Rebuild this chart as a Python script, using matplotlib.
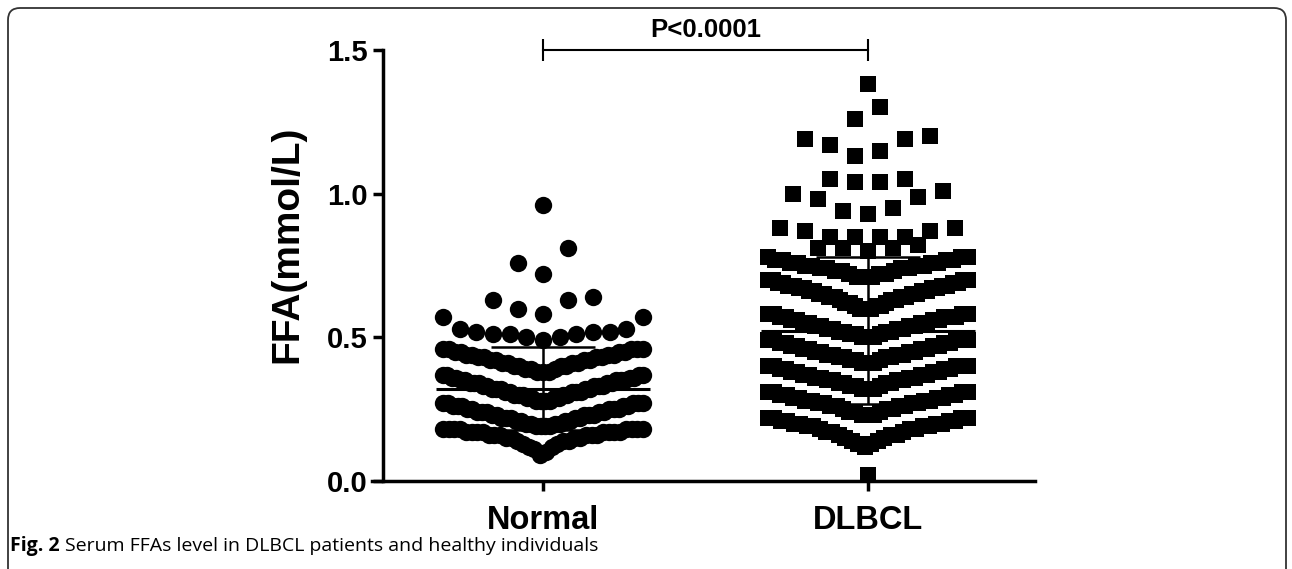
import numpy as np
import matplotlib
matplotlib.use("Agg")
import matplotlib.pyplot as plt
from matplotlib.patches import FancyBboxPatch
from matplotlib.transforms import IdentityTransform

# Data (FFA in mmol/L, value -> number of subjects)
groups = ["Normal", "DLBCL"]

normal_vals = [0.09, 0.10, 0.11, 0.12, 0.13, 0.14, 0.15, 0.16, 0.17, 0.18,
               0.19, 0.20, 0.21, 0.22, 0.23, 0.24, 0.25, 0.26, 0.27,
               0.28, 0.29, 0.30, 0.31, 0.32, 0.33, 0.34, 0.35, 0.36, 0.37,
               0.38, 0.39, 0.40, 0.41, 0.42, 0.43, 0.44, 0.45, 0.46,
               0.49, 0.50, 0.51, 0.52, 0.53, 0.57,
               0.58, 0.60, 0.63, 0.64,
               0.72, 0.76, 0.81,
               0.96]
normal_counts = [1, 1, 1, 2, 2, 3, 4, 6, 8, 8,
                 4, 4, 4, 5, 5, 5, 5, 5, 5,
                 4, 4, 5, 5, 5, 5, 5, 5, 4, 4,
                 3, 3, 4, 4, 4, 4, 4, 4, 5,
                 1, 2, 3, 3, 2, 2,
                 1, 1, 2, 1,
                 1, 1, 1,
                 1]

dlbcl_vals = [0.02,
              0.12, 0.13, 0.14, 0.15, 0.16, 0.17, 0.18, 0.19, 0.20, 0.21, 0.22,
              0.23, 0.24, 0.25, 0.26, 0.27, 0.28, 0.29, 0.30, 0.31,
              0.32, 0.33, 0.34, 0.35, 0.36, 0.37, 0.38, 0.39, 0.40,
              0.41, 0.42, 0.43, 0.44, 0.45, 0.46, 0.47, 0.48, 0.49,
              0.50, 0.51, 0.52, 0.53, 0.54, 0.55, 0.56, 0.57, 0.58,
              0.60, 0.61, 0.62, 0.63, 0.64, 0.65, 0.66, 0.67, 0.68, 0.69, 0.70,
              0.71, 0.72, 0.73, 0.74, 0.75, 0.76, 0.77, 0.78,
              0.80, 0.81, 0.82,
              0.85, 0.87, 0.88,
              0.93, 0.94, 0.95, 0.98, 0.99, 1.00, 1.01,
              1.04, 1.05,
              1.13, 1.15, 1.17, 1.19, 1.20,
              1.26, 1.30,
              1.38]
dlbcl_counts = [1,
                1, 2, 2, 2, 3, 3, 3, 4, 4, 4, 4,
                3, 3, 3, 4, 4, 4, 4, 4, 4,
                3, 3, 4, 4, 4, 4, 4, 4, 5,
                3, 3, 4, 4, 4, 4, 4, 4, 5,
                3, 3, 4, 4, 4, 4, 4, 5, 4,
                3, 3, 3, 3, 4, 4, 4, 4, 4, 4, 4,
                3, 3, 3, 4, 4, 4, 4, 3,
                1, 3, 1,
                4, 2, 2,
                1, 1, 1, 1, 1, 1, 1,
                2, 2,
                1, 1, 1, 2, 1,
                1, 1,
                1]

# bins used for the scatter layout (Prism-like rows)
normal_edges = [0.0, 0.185, 0.275, 0.375, 0.475, 0.575, 0.68, 0.9, 1.0]
dlbcl_edges = [0.0, 0.06, 0.225, 0.315, 0.405, 0.495, 0.585, 0.705, 0.785,
               0.83, 0.91, 1.02, 1.11, 1.23, 1.33, 1.45]


def swarm(values, edges, center, half_width, max_step):
    values = np.sort(np.asarray(values, dtype=float))
    xs = np.zeros(len(values))
    for lo, hi in zip(edges[:-1], edges[1:]):
        idx = np.where((values >= lo) & (values < hi))[0]
        n = len(idx)
        if n == 0:
            continue
        step = max_step if n == 1 else min(max_step, 2 * half_width / (n - 1))
        offs = []
        for k in range(n):
            if n % 2 == 1:
                m = (k + 1) // 2
                offs.append(0 if k == 0 else (-m if k % 2 == 1 else m))
            else:
                m = k // 2 + 0.5
                offs.append(-m if k % 2 == 0 else m)
        xs[idx] = center + np.array(offs) * step
    return xs, values


normal = np.repeat(normal_vals, normal_counts)
dlbcl = np.repeat(dlbcl_vals, dlbcl_counts)

fig = plt.figure(figsize=(12.92, 5.69), dpi=100)
ax = fig.add_axes([372 / 1292, 88 / 569, 663 / 1292, 431 / 569])

px = 325.0  # pixels per category unit
for pos, data, edges, marker, ms in [(1, normal, normal_edges, "o", 12.5),
                                      (2, dlbcl, dlbcl_edges, "s", 12)]:
    xs, ys = swarm(data, edges, pos, 100 / px, 25 / px)
    ax.scatter(xs, ys, s=ms ** 2, marker=marker, c="black", linewidths=0, zorder=3)
    m = np.mean(data)
    sd = np.std(data, ddof=1)
    ax.hlines(m, pos - 0.33, pos + 0.33, color="black", lw=2.2, zorder=4)
    ax.vlines(pos, m - sd, m + sd, color="black", lw=1.8, zorder=4)
    ax.hlines([m - sd, m + sd], pos - 0.16, pos + 0.16, color="black", lw=1.8, zorder=4)

ax.set_xlim(0.474, 2.514)
ax.set_ylim(0, 1.5)
ax.spines["top"].set_visible(False)
ax.spines["right"].set_visible(False)
ax.spines["left"].set_position(("data", 0.508))
for s in ["left", "bottom"]:
    ax.spines[s].set_linewidth(2.5)
ax.set_xticks([1, 2])
ax.set_xticklabels(groups, fontsize=23.5, fontweight="bold", family="Liberation Sans")
ax.set_yticks([0, 0.5, 1.0, 1.5])
ax.set_yticklabels(["0.0", "0.5", "1.0", "1.5"], fontsize=21, fontweight="bold",
                   family="Liberation Sans")
ax.tick_params(width=2.5, length=7, direction="out")
ax.tick_params(axis="y", pad=4)
ax.tick_params(axis="x", pad=10)
ax.set_ylabel("FFA(mmol/L)", fontsize=28, fontweight="bold", family="Liberation Sans")
ax.yaxis.set_label_coords(-0.101, 0.548)

# significance bracket
ax.plot([1, 2], [1.5, 1.5], color="black", lw=1.5, clip_on=False)
ax.vlines([1, 2], 1.463, 1.537, color="black", lw=1.5, clip_on=False)
ax.text(1.5, 1.545, "P<0.0001", ha="center", va="baseline", fontsize=18.5,
        fontweight="bold", family="Liberation Sans")

# caption
renderer = fig.canvas.get_renderer()
t1 = fig.text(10 / 1292, 1 - 551 / 569, "Fig. 2", fontsize=14, fontweight="bold",
              family="Open Sans", va="baseline")
bb = t1.get_window_extent(renderer)
fig.text((bb.x1 + 5) / 1292, 1 - 551 / 569,
         "Serum FFAs level in DLBCL patients and healthy individuals",
         fontsize=14, family="Open Sans", va="baseline")

# rounded frame around the figure
frame = FancyBboxPatch((8, -30), 1278, 591, boxstyle="round,pad=0,rounding_size=12",
                       transform=IdentityTransform(), fill=False, ec="#333333", lw=1.3)
fig.add_artist(frame)

fig.savefig("out.png", dpi=100)
